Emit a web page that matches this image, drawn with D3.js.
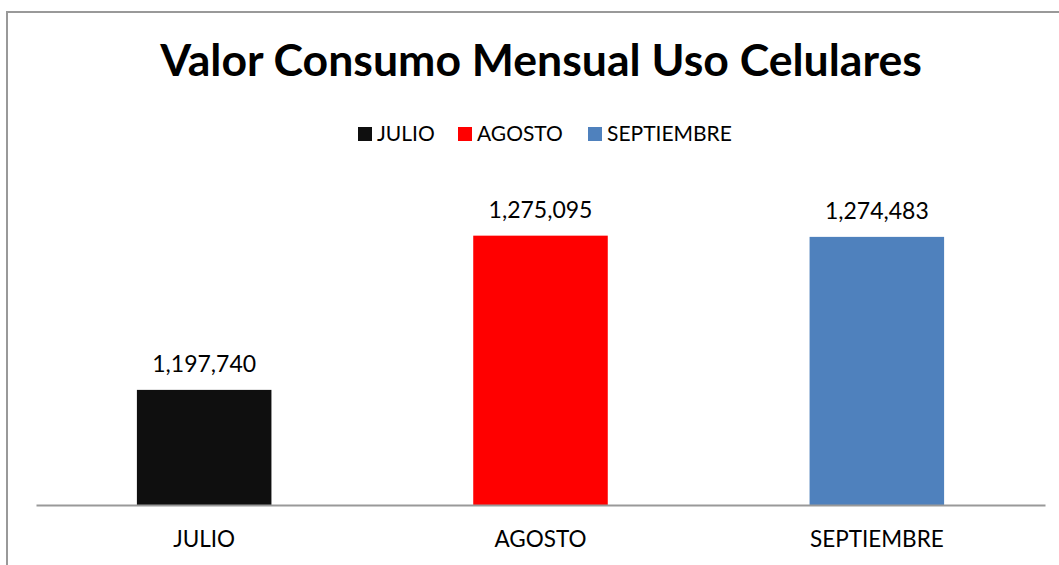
<!DOCTYPE html>
<html>
<head>
<meta charset="utf-8">
<script src="https://cdn.jsdelivr.net/npm/d3@7"></script>
<style>
  body { margin: 0; background: #fff; }
  svg { display: block; font-family: Lato, "Open Sans", sans-serif; }
</style>
</head>
<body>
<div id="chart"></div>
<script>
const months = ["JULIO", "AGOSTO", "SEPTIEMBRE"];
const values = [1197740, 1275095, 1274483];
const colors = ["#0f0f0f", "#ff0000", "#4f81bd"];
const title = "Valor Consumo Mensual Uso Celulares";

const W = 1059, H = 565;
const plot = { left: 36, right: 1045, top: 186, bottom: 505 };

const svg = d3.select("#chart").append("svg")
  .attr("width", W)
  .attr("height", H);

// chart frame
svg.append("rect")
  .attr("x", 7).attr("y", 12)
  .attr("width", W + 10).attr("height", H + 10)
  .attr("fill", "#fff")
  .attr("stroke", "#999")
  .attr("stroke-width", 2);

// fit a text element to a target width by changing its font size
function fitWidth(sel, width) {
  const w = sel.node().getComputedTextLength();
  const fs = parseFloat(sel.attr("font-size"));
  sel.attr("font-size", fs * width / w);
}

const t = svg.append("text")
  .attr("x", 541).attr("y", 76)
  .attr("text-anchor", "middle")
  .attr("font-weight", "bold")
  .attr("font-size", 40)
  .attr("fill", "#000")
  .text(title);
fitWidth(t, 762);

const x = d3.scaleBand()
  .domain(months)
  .range([plot.left, plot.right])
  .paddingInner(0.6)
  .paddingOuter(0.3);

const y = d3.scaleLinear()
  .domain([1140000, 1300000])
  .range([plot.bottom, plot.top]);

const fmt = d3.format(",");
const data = months.map((m, i) => ({ month: m, value: values[i], color: colors[i] }));

// bars
svg.selectAll(".bar")
  .data(data)
  .enter()
  .append("rect")
  .attr("class", "bar")
  .attr("x", d => x(d.month))
  .attr("y", d => y(d.value))
  .attr("width", x.bandwidth())
  .attr("height", d => plot.bottom - y(d.value))
  .attr("fill", d => d.color);

// value labels
svg.selectAll(".lbl")
  .data(data)
  .enter()
  .append("text")
  .attr("class", "lbl")
  .attr("x", d => x(d.month) + x.bandwidth() / 2)
  .attr("y", d => y(d.value) - 18)
  .attr("text-anchor", "middle")
  .attr("font-size", 23)
  .attr("fill", "#000")
  .text(d => fmt(d.value));

// x axis
const xAxis = svg.append("g")
  .attr("transform", "translate(0," + plot.bottom + ")")
  .call(d3.axisBottom(x).tickSize(0).tickPadding(26));
xAxis.select(".domain").attr("stroke", "#999").attr("stroke-width", 2);
xAxis.selectAll("text")
  .attr("font-size", 22.5)
  .attr("font-family", "Lato, 'Open Sans', sans-serif")
  .attr("fill", "#000");

// legend
const legendX = [358, 458, 588];
const legend = svg.selectAll(".leg")
  .data(data)
  .enter()
  .append("g")
  .attr("class", "leg")
  .attr("transform", (d, i) => "translate(" + legendX[i] + ",127)");
legend.append("rect")
  .attr("width", 14).attr("height", 14)
  .attr("fill", d => d.color);
legend.append("text")
  .attr("x", 19).attr("y", 14)
  .attr("font-size", 21)
  .attr("fill", "#000")
  .text(d => d.month);
</script>
</body>
</html>
